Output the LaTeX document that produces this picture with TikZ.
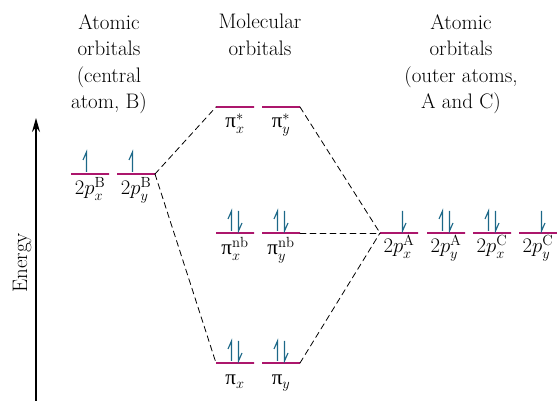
\documentclass[tikz,border=0pt]{standalone}
\usepackage{amsmath}
\usepackage{fontspec}
\usepackage{tikz}
\usetikzlibrary{arrows.meta}
\newfontfamily\grk{Liberation Serif}
\newcommand{\gpi}{\text{\grk π}}
\definecolor{levelcol}{RGB}{172,22,108}
\definecolor{eleccol}{RGB}{28,104,136}
% one electron, up or down, on a level node
\newcommand{\eup}[1]{\draw[elec] ([xshift=-3.5pt,yshift=2pt]#1.center) -- ++(0,20) -- ++(-3.5,-8);}
\newcommand{\edown}[1]{\draw[elec] ([xshift=3.5pt,yshift=22pt]#1.center) -- ++(0,-20) -- ++(3.5,8);}

\begin{document}
\begin{tikzpicture}[x=1pt, y=1pt, line cap=round,
	every node/.style={font=\fontsize{21}{26.5}\selectfont},
	lvl/.style={draw=levelcol, line width=1.6pt, line cap=butt, minimum width=38pt, minimum height=0pt, inner sep=0pt, outer sep=0pt},
	elec/.style={draw=eleccol, line width=1.1pt, line cap=butt, line join=miter},
	conn/.style={dashed, dash pattern=on 6pt off 4pt, line width=0.8pt},
	head/.style={align=center, anchor=north, inner sep=0pt},
	lab/.style={anchor=base, inner sep=0pt}]
	\useasboundingbox (0,0) rectangle (557,401);
	% energy axis
	\draw[-{Stealth[length=14pt,width=8pt]}, line width=1.4pt, line cap=butt] (36,0) -- (36,283);
	\node[rotate=90] (energy) at (22,138) {Energy};
	% headers
	\node[head] (hleft) at (109,387) {Atomic\\orbitals\\(central\\atom, B)};
	\node[head] (hmid) at (260,387) {Molecular\\orbitals};
	\node[head] (hright) at (461,387) {Atomic\\orbitals\\(outer atoms,\\A and C)};
	% central atom levels
	\node[lvl] (pxB) at (90,227) {};
	\node[lvl] (pyB) at (136,227) {};
	% molecular orbital levels
	\node[lvl] (pistx) at (235,294) {};
	\node[lvl] (pisty) at (281,294) {};
	\node[lvl] (pinbx) at (235,168) {};
	\node[lvl] (pinby) at (281,168) {};
	\node[lvl] (pix) at (235,38) {};
	\node[lvl] (piy) at (281,38) {};
	% outer atom levels
	\node[lvl] (pxA) at (399,168) {};
	\node[lvl] (pyA) at (446,168) {};
	\node[lvl] (pxC) at (492,168) {};
	\node[lvl] (pyC) at (538,168) {};
	% labels
	\node[lab] (lpxB) at ([yshift=-21pt]pxB.center) {$2p_x^{\mathrm{B}}$};
	\node[lab] (lpyB) at ([yshift=-21pt]pyB.center) {$2p_y^{\mathrm{B}}$};
	\node[lab] (lpistx) at ([yshift=-21pt]pistx.center) {$\gpi_x^{*}$};
	\node[lab] (lpisty) at ([yshift=-21pt]pisty.center) {$\gpi_y^{*}$};
	\node[lab] (lpinbx) at ([yshift=-22pt]pinbx.center) {$\gpi_x^{\mathrm{nb}}$};
	\node[lab] (lpinby) at ([yshift=-22pt]pinby.center) {$\gpi_y^{\mathrm{nb}}$};
	\node[lab] (lpix) at ([yshift=-22pt]pix.center) {$\gpi_x$};
	\node[lab] (lpiy) at ([yshift=-22pt]piy.center) {$\gpi_y$};
	\node[lab] (lpxA) at ([yshift=-20pt]pxA.center) {$2p_x^{\mathrm{A}}$};
	\node[lab] (lpyA) at ([yshift=-20pt]pyA.center) {$2p_y^{\mathrm{A}}$};
	\node[lab] (lpxC) at ([yshift=-20pt]pxC.center) {$2p_x^{\mathrm{C}}$};
	\node[lab] (lpyC) at ([yshift=-20pt]pyC.center) {$2p_y^{\mathrm{C}}$};
	% electrons
	\eup{pxB} \eup{pyB}
	\eup{pinbx} \edown{pinbx} \eup{pinby} \edown{pinby}
	\eup{pix} \edown{pix} \eup{piy} \edown{piy}
	\edown{pxA} \eup{pyA} \edown{pyA} \eup{pxC} \edown{pxC} \edown{pyC}
	% correlation lines
	\draw[conn] (pyB.east) -- (pistx.west);
	\draw[conn] (pyB.east) -- (pix.west);
	\draw[conn] (pisty.east) -- (pxA.west);
	\draw[conn] (piy.east) -- (pxA.west);
	\draw[conn] (pinby.east) -- (pxA.west);
\end{tikzpicture}
\end{document}
